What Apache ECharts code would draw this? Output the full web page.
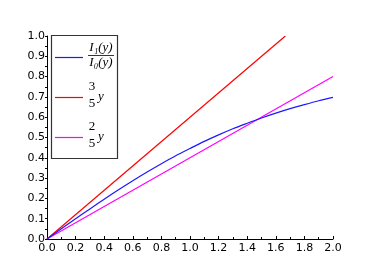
<!DOCTYPE html>
<html><head><meta charset="utf-8">
<script src="https://cdn.jsdelivr.net/npm/echarts@6/dist/echarts.min.js"></script>
<style>html,body{margin:0;padding:0;background:#fff}#c{width:382px;height:273px}</style>
</head><body><div id="c"></div>
<script>
const xValues = [0,0.1,0.2,0.3,0.4,0.5,0.6,0.7,0.8,0.9,1.0,1.1,1.2,1.3,1.4,1.5,1.6,1.7,1.8,1.9,2.0];
const besselRatio = [0,0.050,0.0995,0.148,0.196,0.2425,0.287,0.330,0.371,0.410,0.446,0.481,0.513,0.543,0.570,0.596,0.620,0.642,0.662,0.681,0.698];
const redLine = [[0,0],[1.667,1.0]];
const magentaLine = [[0,0],[2.0,0.8]];
const xTicks = [0,0.2,0.4,0.6,0.8,1.0,1.2,1.4,1.6,1.8,2.0];
const yTicks = [0,0.1,0.2,0.3,0.4,0.5,0.6,0.7,0.8,0.9,1.0];

const chart = echarts.init(document.getElementById('c'), null, {renderer:'canvas'});
const lbl = {fontFamily:'DejaVu Sans', fontSize:11, color:'#000'};
const serif = 'italic 13px "Liberation Serif"';
const upright = '13px "Liberation Serif"';
chart.setOption({
  animation:false,
  grid:{left:47, right:49, top:36, bottom:34},
  xAxis:{type:'value', min:0, max:2, interval:0.2,
    axisLine:{lineStyle:{color:'#000', width:1}},
    axisTick:{inside:true, length:3, lineStyle:{color:'#000'}},
    minorTick:{show:true, splitNumber:2, length:2, lineStyle:{color:'#000'}},
    splitLine:{show:false},
    axisLabel:Object.assign({margin:4, formatter:v=>v.toFixed(1)}, lbl)},
  yAxis:{type:'value', min:0, max:1, interval:0.1,
    axisLine:{show:true, lineStyle:{color:'#000', width:1}},
    axisTick:{show:true, inside:false, length:2, lineStyle:{color:'#000'}},
    minorTick:{show:true, splitNumber:2, length:2, lineStyle:{color:'#000'}},
    splitLine:{show:false},
    axisLabel:Object.assign({margin:2, formatter:v=>v.toFixed(1)}, lbl)},
  series:[
    {type:'line', data:redLine, showSymbol:false, lineStyle:{color:'#ff0000', width:1.2}, z:2},
    {type:'line', data:magentaLine, showSymbol:false, lineStyle:{color:'#ff00ff', width:1.2}, z:3},
    {type:'line', data:xValues.map((x,i)=>[x,besselRatio[i]]), smooth:0.3, showSymbol:false, lineStyle:{color:'#1a1aff', width:1.2}, z:4}
  ],
  graphic:[
    {type:'rect', shape:{x:51.5, y:35.5, width:66, height:123}, style:{fill:'#fff', stroke:'#333', lineWidth:1.2}, z:10},
    {type:'line', shape:{x1:55, y1:57.5, x2:83, y2:57.5}, style:{stroke:'#1a1aff', lineWidth:1.2}, z:11},
    {type:'line', shape:{x1:55, y1:97.5, x2:83, y2:97.5}, style:{stroke:'#ff0000', lineWidth:1.2}, z:11},
    {type:'line', shape:{x1:55, y1:137.5, x2:83, y2:137.5}, style:{stroke:'#ff00ff', lineWidth:1.2}, z:11},
    {type:'text', x:101, y:48, style:{text:'I₁(y)', font:serif, fill:'#000', textAlign:'center', textVerticalAlign:'middle'}, z:11},
    {type:'line', shape:{x1:88, y1:55.5, x2:114, y2:55.5}, style:{stroke:'#000', lineWidth:0.8}, z:11},
    {type:'text', x:101, y:63, style:{text:'I₀(y)', font:serif, fill:'#000', textAlign:'center', textVerticalAlign:'middle'}, z:11},
    {type:'text', x:92, y:87, style:{text:'3', font:upright, fill:'#000', textAlign:'center', textVerticalAlign:'middle'}, z:11},
    {type:'text', x:92, y:104, style:{text:'5', font:upright, fill:'#000', textAlign:'center', textVerticalAlign:'middle'}, z:11},
    {type:'text', x:98, y:97, style:{text:'y', font:serif, fill:'#000', textAlign:'left', textVerticalAlign:'middle'}, z:11},
    {type:'text', x:92, y:127, style:{text:'2', font:upright, fill:'#000', textAlign:'center', textVerticalAlign:'middle'}, z:11},
    {type:'text', x:92, y:144, style:{text:'5', font:upright, fill:'#000', textAlign:'center', textVerticalAlign:'middle'}, z:11},
    {type:'text', x:98, y:137, style:{text:'y', font:serif, fill:'#000', textAlign:'left', textVerticalAlign:'middle'}, z:11}
  ]
});
</script></body></html>
